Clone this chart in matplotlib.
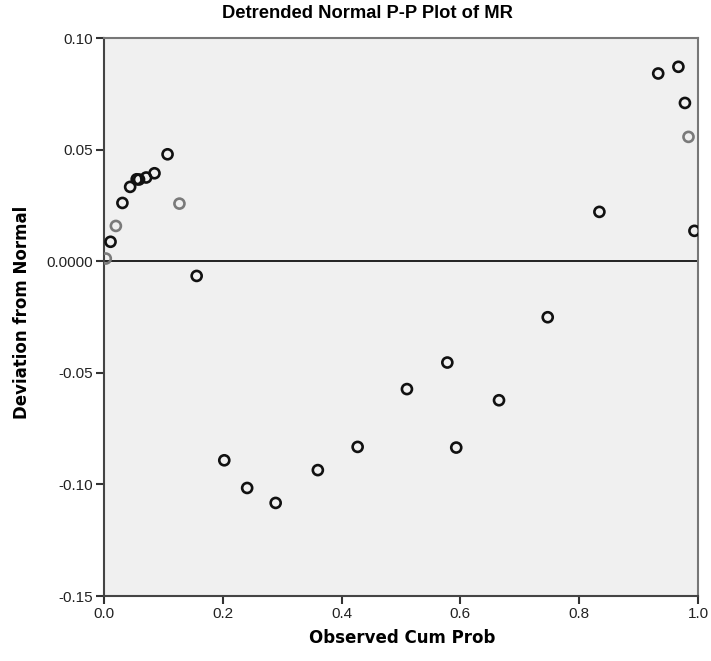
import numpy as np
import matplotlib.pyplot as plt

# observed cumulative probability vs deviation from normal
obs_cum_prob = [0.003, 0.011, 0.020, 0.031, 0.044, 0.055, 0.059, 0.071, 0.085, 0.107,
                0.127, 0.156, 0.2025, 0.241, 0.289, 0.360, 0.427, 0.510, 0.578, 0.593,
                0.665, 0.747, 0.834, 0.933, 0.967, 0.978, 0.984, 0.994]
deviation = [0.0012, 0.0087, 0.0158, 0.0261, 0.0333, 0.0367, 0.0366, 0.0375, 0.0394, 0.0479,
             0.0258, -0.0066, -0.0892, -0.1016, -0.1083, -0.0936, -0.0832, -0.0573, -0.0454, -0.0835,
             -0.0623, -0.0251, 0.0221, 0.0841, 0.0871, 0.0709, 0.0557, 0.0136]
faint = [0, 2, 10, 26]  # markers drawn lighter in the original

x_ticks = [0.0, 0.2, 0.4, 0.6, 0.8, 1.0]
x_tick_labels = ["0.0", "0.2", "0.4", "0.6", "0.8", "1.0"]
y_ticks = [0.10, 0.05, 0.0, -0.05, -0.10, -0.15]
y_tick_labels = ["0.10", "0.05", "0.0000", "-0.05", "-0.10", "-0.15"]

fig = plt.figure(figsize=(7.11, 6.61), dpi=100)
ax = fig.add_axes([104 / 711, 65 / 661, 594 / 711, 558 / 661])
ax.set_facecolor("#f0f0f0")

colors = ["#7a7a7a" if i in faint else "#111111" for i in range(len(obs_cum_prob))]
ax.axhline(0, color="#222222", lw=1.4, zorder=1)
ax.scatter(obs_cum_prob, deviation, s=52, facecolors="none", edgecolors=colors,
           linewidths=1.9, zorder=3)

ax.set_xlim(0, 1)
ax.set_ylim(-0.15, 0.10)
ax.set_xticks(x_ticks)
ax.set_xticklabels(x_tick_labels)
ax.set_yticks(y_ticks)
ax.set_yticklabels(y_tick_labels)
ax.tick_params(direction="out", length=6, width=1.5, color="#333333",
               labelsize=11, labelcolor="#222222", pad=2)
for lab in ax.get_xticklabels() + ax.get_yticklabels():
    lab.set_fontfamily("Liberation Sans")
for sp in ax.spines.values():
    sp.set_color("#777777")
    sp.set_linewidth(1.5)
ax.spines["left"].set_color("#444444")
ax.spines["bottom"].set_color("#444444")

fig.text(367 / 711, 1 - 14 / 661, "Detrended Normal P-P Plot of MR", ha="center", va="center",
         fontsize=13.2, fontweight="bold", family="Liberation Sans")
fig.text(402 / 711, 1 - 638 / 661, "Observed Cum Prob", ha="center", va="center",
         fontsize=12, fontweight="bold", family="DejaVu Sans")
fig.text(22 / 711, 1 - 312 / 661, "Deviation from Normal", ha="center", va="center",
         rotation=90, fontsize=12, fontweight="bold", family="DejaVu Sans")

fig.savefig("out.png", dpi=100, facecolor="white")
